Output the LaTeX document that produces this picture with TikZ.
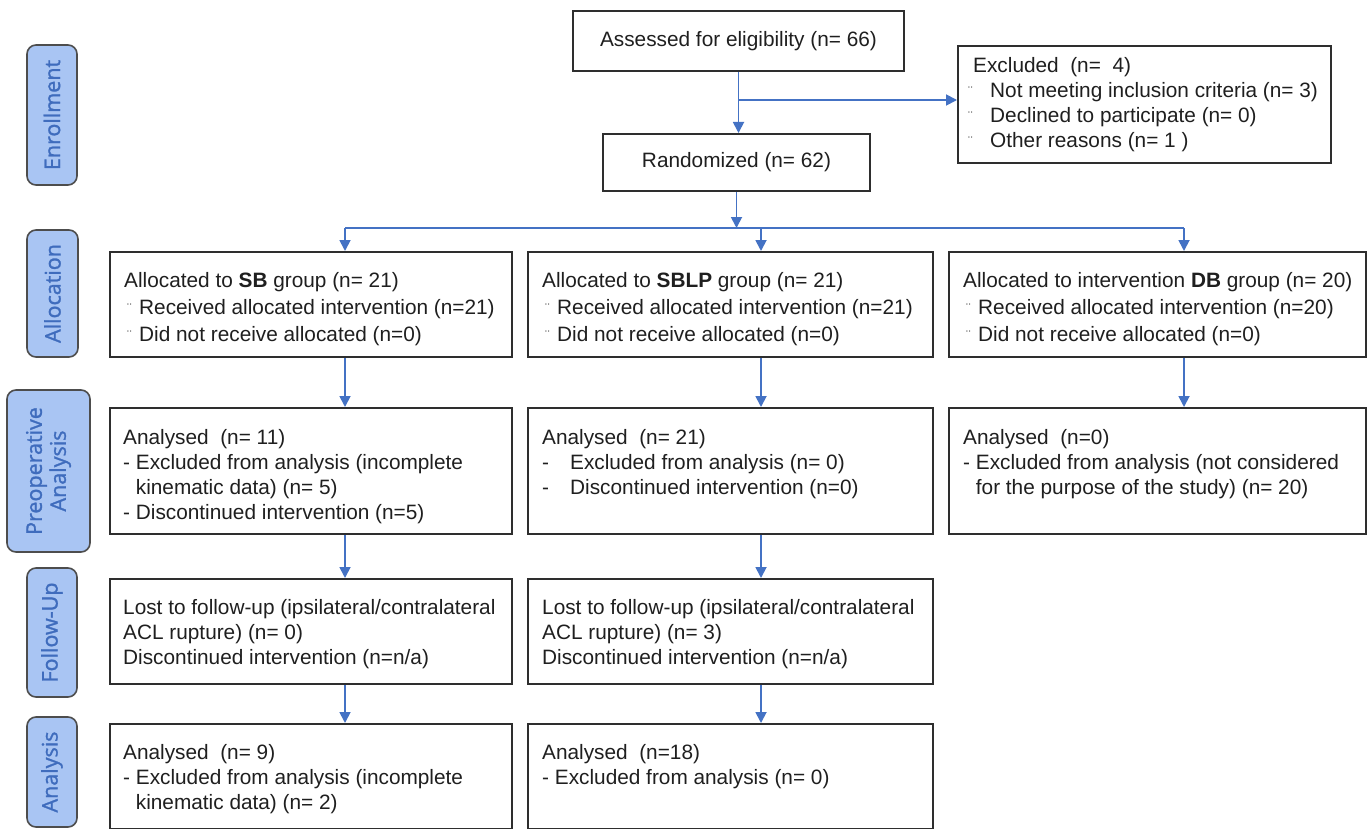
\documentclass[tikz,border=0pt]{standalone}
\usepackage{fontspec}
\setmainfont{Liberation Sans}
\newfontfamily\labfont[FakeBold=1.3]{Open Sans}
\usetikzlibrary{arrows.meta}
\definecolor{arr}{HTML}{4472C4}
\definecolor{labfill}{HTML}{A9C5F3}
\definecolor{labtext}{HTML}{3F6CBD}
\definecolor{boxline}{HTML}{2E2E2E}
\newcommand{\bmark}{{\color{black!60}\raisebox{1pt}{\fontsize{14}{14}\selectfont ¨}}}
\newcommand{\bul}{\makebox[15pt][l]{\hspace{3pt}\bmark}}
\begin{document}
\begin{tikzpicture}[x=1pt,y=-1pt,
 box/.style={draw=boxline, line width=2pt, anchor=north west, inner sep=0, fill=white},
 lab/.style={draw=boxline!85, line width=1.6pt, fill=labfill, rounded corners=9pt, rotate=90, inner sep=0, align=center, font=\labfont\fontsize{21.5}{24}\selectfont, text=labtext},
 txt/.style={anchor=north west, inner sep=0, align=left, font=\fontsize{20.8}{25}\selectfont, text=black!88},
 txtb/.style={txt, font=\fontsize{20.8}{27}\selectfont},
 flow/.style={draw=arr, line width=1.8pt, -{Triangle[length=11pt,width=11pt]}},
 plain/.style={draw=arr, line width=1.8pt},
]
\useasboundingbox (0,0) rectangle (1372,829);
\fill[white] (0,0) rectangle (1372,829);

% side labels
\node[lab, minimum width=140pt, minimum height=50pt] (Lenr) at (52,115) {Enrollment};
\node[lab, minimum width=127pt, minimum height=51pt] (Lall) at (52.5,293.5) {Allocation};
\node[lab, minimum width=162pt, minimum height=83pt] (Lpre) at (48.5,471) {Preoperative\\Analysis};
\node[lab, minimum width=129pt, minimum height=50pt] (Lfol) at (52,632.5) {Follow-Up};
\node[lab, minimum width=110pt, minimum height=50pt] (Lana) at (52,772) {Analysis};

% top boxes
\node[box, minimum width=331pt, minimum height=60pt, font=\fontsize{20.8}{25}\selectfont, text=black!88] (assess) at (572,10) {Assessed for eligibility (n= 66)};
\node[box, minimum width=267pt, minimum height=57pt, font=\fontsize{20.8}{25}\selectfont, text=black!88] (rand) at (602,133) {Randomized (n= 62)};
\node[box, minimum width=373pt, minimum height=117pt] (excl) at (957,45) {};
\node[txt] (exclt) at (973,57) {Excluded~~(n=~~4)\\
\hspace*{-5pt}\makebox[22pt][l]{\bmark}Not meeting inclusion criteria (n= 3)\\
\hspace*{-5pt}\makebox[22pt][l]{\bmark}Declined to participate (n= 0)\\
\hspace*{-5pt}\makebox[22pt][l]{\bmark}Other reasons (n= 1 )};

% allocation
\node[box, minimum width=402pt, minimum height=105pt] (a1) at (109,251) {};
\node[box, minimum width=405pt, minimum height=105pt] (a2) at (527,251) {};
\node[box, minimum width=417pt, minimum height=105pt] (a3) at (948,251) {};
\node[txtb] (a1t) at (124,272) {Allocated to \textbf{SB} group (n= 21)\\
\bul Received allocated intervention (n=21)\\
\bul Did not receive allocated (n=0)};
\node[txtb] (a2t) at (542,272) {Allocated to \textbf{SBLP} group (n= 21)\\
\bul Received allocated intervention (n=21)\\
\bul Did not receive allocated (n=0)};
\node[txtb] (a3t) at (963,272) {Allocated to intervention \textbf{DB} group (n= 20)\\
\bul Received allocated intervention (n=20)\\
\bul Did not receive allocated (n=0)};

% preoperative
\node[box, minimum width=402pt, minimum height=126pt] (p1) at (109,407) {};
\node[box, minimum width=405pt, minimum height=126pt] (p2) at (527,407) {};
\node[box, minimum width=417pt, minimum height=126pt] (p3) at (948,407) {};
\node[txt] (p1t) at (123,429) {Analysed~~(n= 11)\\
- Excluded from analysis (incomplete\\
\phantom{- }kinematic data) (n= 5)\\
- Discontinued intervention (n=5)};
\node[txt] (p2t) at (542,429) {Analysed~~(n= 21)\\
\makebox[28pt][l]{-}Excluded from analysis (n= 0)\\
\makebox[28pt][l]{-}Discontinued intervention (n=0)};
\node[txt] (p3t) at (963,429) {Analysed~~(n=0)\\
- Excluded from analysis (not considered\\
\phantom{- }for the purpose of the study) (n= 20)};

% follow-up
\node[box, minimum width=402pt, minimum height=105pt] (f1) at (109,578) {};
\node[box, minimum width=405pt, minimum height=105pt] (f2) at (527,578) {};
\node[txt] (f1t) at (123,599) {Lost to follow-up (ipsilateral/contralateral\\
ACL rupture) (n= 0)\\
Discontinued intervention (n=n/a)};
\node[txt] (f2t) at (542,599) {Lost to follow-up (ipsilateral/contralateral\\
ACL rupture) (n= 3)\\
Discontinued intervention (n=n/a)};

% analysis
\node[box, minimum width=402pt, minimum height=105pt] (n1) at (109,723) {};
\node[box, minimum width=405pt, minimum height=105pt] (n2) at (527,723) {};
\node[txt] (n1t) at (123,744) {Analysed~~(n= 9)\\
- Excluded from analysis (incomplete\\
\phantom{- }kinematic data) (n= 2)};
\node[txt] (n2t) at (542,744) {Analysed~~(n=18)\\
- Excluded from analysis (n= 0)};

% connectors
\coordinate (ybr) at (0,100);
\coordinate (br) at (assess.south |- ybr);
\coordinate (c1) at (345,228);
\coordinate (c2) at (761,228);
\coordinate (c3) at (1184,228);
\draw[flow] (assess.south) -- (assess.south |- rand.north);
\draw[flow] (br) -- (br -| excl.west);
\draw[plain] (c1) -- (c3);
\draw[flow] (rand.south) -- (rand.south |- c1);
\draw[flow] (c1) -- (c1 |- a1.north);
\draw[flow] (c2) -- (c2 |- a2.north);
\draw[flow] (c3) -- (c3 |- a3.north);
\draw[flow] (c1 |- a1.south) -- (c1 |- p1.north);
\draw[flow] (c2 |- a2.south) -- (c2 |- p2.north);
\draw[flow] (c3 |- a3.south) -- (c3 |- p3.north);
\draw[flow] (c1 |- p1.south) -- (c1 |- f1.north);
\draw[flow] (c2 |- p2.south) -- (c2 |- f2.north);
\draw[flow] (c1 |- f1.south) -- (c1 |- n1.north);
\draw[flow] (c2 |- f2.south) -- (c2 |- n2.north);
\end{tikzpicture}
\end{document}
